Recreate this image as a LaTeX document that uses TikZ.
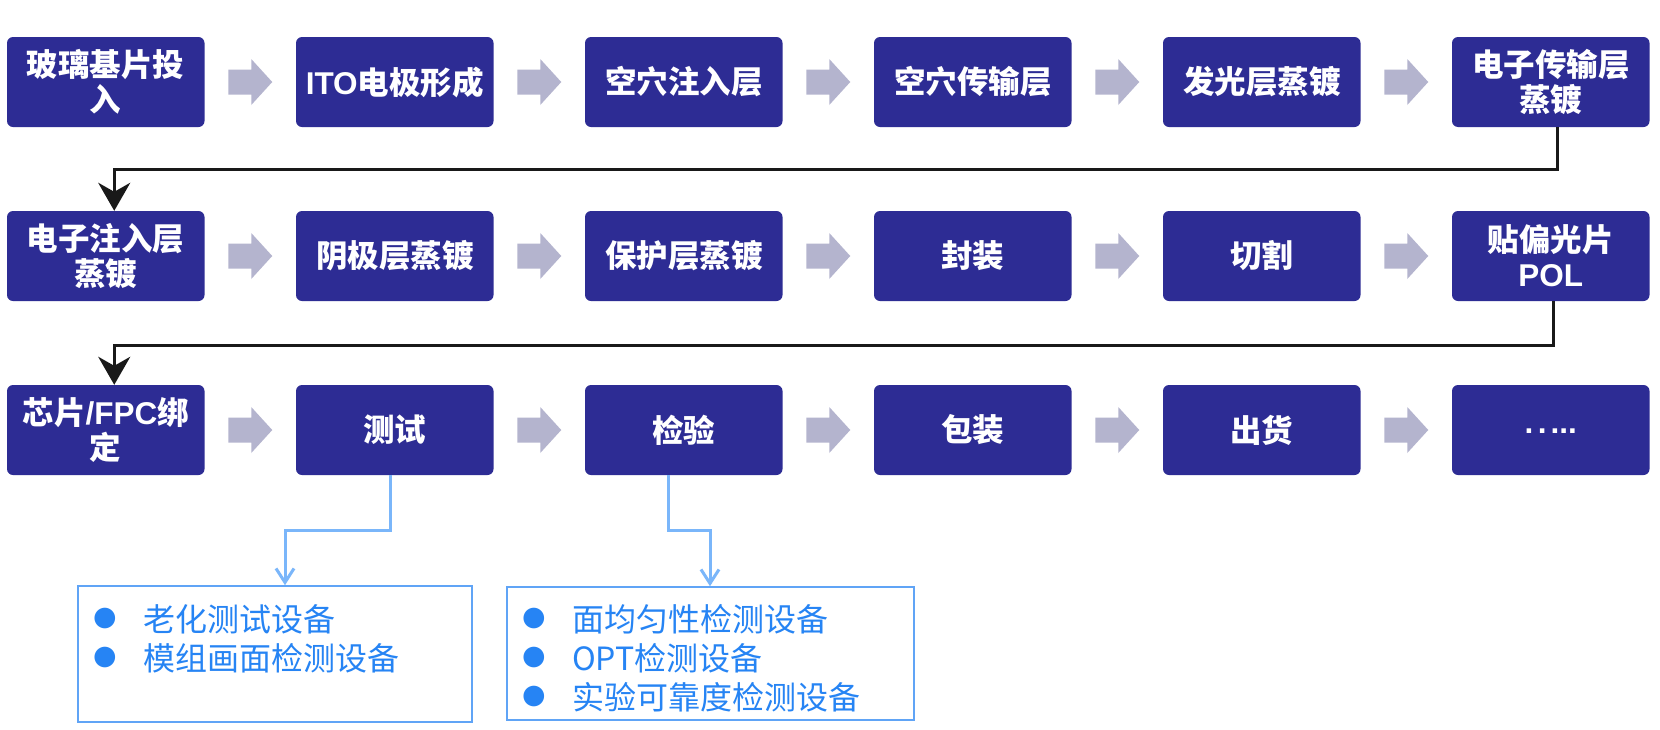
\documentclass[tikz,border=0pt]{standalone}
\usepackage{fontspec}
\newfontfamily\cjk{Noto Sans CJK SC}
\newfontfamily\lat{Liberation Sans}
\newfontfamily\sym{DejaVu Sans}
\usetikzlibrary{arrows.meta,calc}
\definecolor{boxblue}{RGB}{45,44,148}
\definecolor{garrow}{RGB}{180,180,206}
\definecolor{itemblue}{RGB}{38,132,244}
\definecolor{lineblue}{RGB}{122,182,250}
\definecolor{frameblue}{RGB}{96,164,246}
\definecolor{blk}{RGB}{25,25,25}
\begin{document}
\begin{tikzpicture}[x=1pt,y=-1pt,
  stepbox/.style={fill=boxblue,rounded corners=6pt,minimum width=197.5pt,minimum height=90pt,inner sep=0pt,text=white,font=\cjk\bfseries\fontsize{31.5}{35}\selectfont,align=center,text width=194pt},
  eqbox/.style={draw=frameblue,line width=1.6pt,fill=white,inner sep=0pt},
  bul/.style={inner sep=0pt,text=itemblue,font=\sym\fontsize{27}{27}\selectfont},
  item/.style={inner sep=0pt,text=itemblue,font=\cjk\fontsize{32}{38}\selectfont},
  blkline/.style={draw=blk,line width=3pt,-{Stealth[length=28pt,width=32pt,inset=9pt]}},
  bline/.style={draw=lineblue,line width=3pt,-{Straight Barb[length=14pt,width=18pt,line width=3pt]}}
]
\fill[white] (0,0) rectangle (1660,729);
\useasboundingbox (0,0) rectangle (1660,729);

% row 1
\node[stepbox] (n11) at (105.75,82) {玻璃基片投\\入};
\node[stepbox] (n12) at (394.75,82) {{\lat ITO}电极形成};
\node[stepbox] (n13) at (683.75,82) {空穴注入层};
\node[stepbox] (n14) at (972.75,82) {空穴传输层};
\node[stepbox] (n15) at (1261.75,82) {发光层蒸镀};
\node[stepbox] (n16) at (1550.75,82) {电子传输层\\蒸镀};
% row 2
\node[stepbox] (n21) at (105.75,256) {电子注入层\\蒸镀};
\node[stepbox] (n22) at (394.75,256) {阴极层蒸镀};
\node[stepbox] (n23) at (683.75,256) {保护层蒸镀};
\node[stepbox] (n24) at (972.75,256) {封装};
\node[stepbox] (n25) at (1261.75,256) {切割};
\node[stepbox] (n26) at (1550.75,256) {贴偏光片\\{\lat POL}};
% row 3
\node[stepbox] (n31) at (105.75,430) {芯片{\lat /FPC}绑\\定};
\node[stepbox] (n32) at (394.75,430) {测试};
\node[stepbox] (n33) at (683.75,430) {检验};
\node[stepbox] (n34) at (972.75,430) {包装};
\node[stepbox] (n35) at (1261.75,430) {出货};
\node[stepbox] (n36) at (1550.75,430) {\raisebox{-6pt}{\lat .\kern4.5pt.\kern4pt...}};

% gray arrows
\foreach \r in {1,2,3}{
  \foreach \a/\b in {1/2,2/3,3/4,4/5,5/6}{
    \path ($(n\r\a.east)!0.5!(n\r\b.west)$) coordinate (m);
    \fill[garrow] ($(m)+(-22,-12.5)$) -- ($(m)+(1,-12.5)$) -- ($(m)+(1,-23)$) -- ($(m)+(22,0)$)
      -- ($(m)+(1,23)$) -- ($(m)+(1,12.5)$) -- ($(m)+(-22,12.5)$) -- cycle;
  }
}

% black connectors
\coordinate (k1) at (114.25,169);
\coordinate (k2) at (114.25,345);
\draw[blkline] ([xshift=6.5pt]n16.south) |- (k1) -- ([xshift=8.5pt]n21.north);
\draw[blkline] ([xshift=2.5pt]n26.south) |- (k2) -- ([xshift=8.5pt]n31.north);

% equipment boxes
\node[eqbox,minimum width=394pt,minimum height=136pt] (e1) at (275,654) {};
\node[eqbox,minimum width=407pt,minimum height=133pt] (e2) at (710.5,653.5) {};

\node[bul] (b11) at (105,619) {●};
\node[bul] (b12) at (105,658) {●};
\node[item,anchor=base west] (t11) at (143,631) {老化测试设备};
\node[item,anchor=base west] (t12) at (143,670) {模组画面检测设备};

\node[bul] (b21) at (534,619) {●};
\node[bul] (b22) at (534,658) {●};
\node[bul] (b23) at (534,697) {●};
\node[item,anchor=base west] (t21) at (572,631) {面均匀性检测设备};
\node[item,anchor=base west] (t22) at (572,670) {OPT检测设备};
\node[item,anchor=base west] (t23) at (572,709) {实验可靠度检测设备};

% blue connectors
\coordinate (q1) at (285,530);
\coordinate (q2) at (710,530);
\draw[bline] ([xshift=-4.75pt]n32.south) |- (q1) -- (q1 |- e1.north);
\draw[bline] ([xshift=-15.75pt]n33.south) |- (q2) -- (q2 |- e2.north);
\end{tikzpicture}
\end{document}
